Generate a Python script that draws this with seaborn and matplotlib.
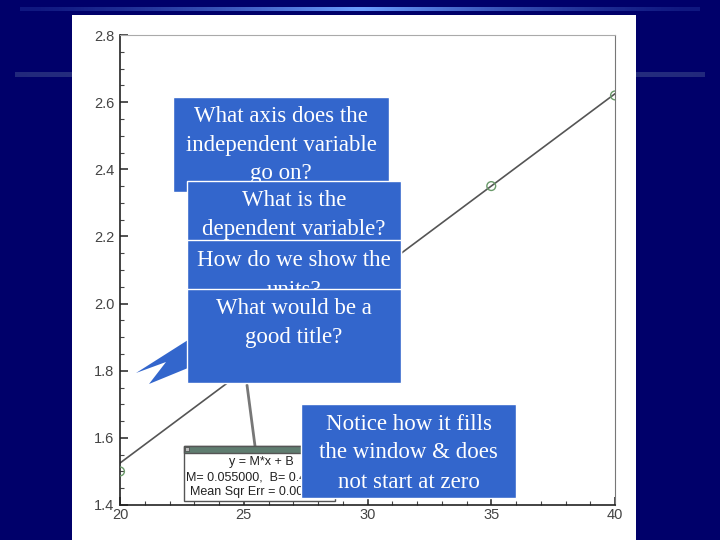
import numpy as np
import pandas as pd
import matplotlib
matplotlib.use("Agg")
import matplotlib.pyplot as plt
import seaborn as sns
from matplotlib.patches import Rectangle, Polygon

# data
x_points = [20, 35, 40]
y_points = [1.50, 2.35, 2.62]
fit_m = 0.055
fit_b = 0.425
x_ticks = [20, 25, 30, 35, 40]
y_ticks = [1.4, 1.6, 1.8, 2.0, 2.2, 2.4, 2.6, 2.8]

df = pd.DataFrame({"x": x_points, "y": y_points})
fit_x = [20, 40]
fit_df = pd.DataFrame({"x": fit_x, "y": [fit_m * v + fit_b for v in fit_x]})

sns.set_style("white")
plt.rcParams["font.family"] = ["Liberation Sans", "DejaVu Sans"]

NAVY = "#00006a"
BLUE = "#3366cc"

fig = plt.figure(figsize=(7.2, 5.4), dpi=100, facecolor=NAVY)

# background layer in pixel coordinates
bg = fig.add_axes([0, 0, 1, 1], zorder=0)
bg.set_xlim(0, 720)
bg.set_ylim(540, 0)
bg.axis("off")
bg.set_facecolor(NAVY)
grad = np.concatenate([np.linspace(0, 1, 50), np.linspace(1, 0, 50)])
top_line = np.zeros((1, 100, 4))
top_line[..., 0] = 0.42
top_line[..., 1] = 0.62
top_line[..., 2] = 1.0
top_line[..., 3] = 0.15 + 0.85 * grad ** 1.5
bg.imshow(top_line, extent=(20, 700, 11, 7), aspect="auto", interpolation="bicubic")
mid_line = np.zeros((1, 100, 4))
mid_line[..., 0] = 0.30
mid_line[..., 1] = 0.36
mid_line[..., 2] = 0.58
mid_line[..., 3] = 0.45 + 0.2 * grad
bg.imshow(mid_line, extent=(15, 705, 77, 72), aspect="auto", interpolation="bicubic")
bg.add_patch(Rectangle((72, 15), 564, 530, facecolor="white", edgecolor="none", zorder=3))

# chart
ax = fig.add_axes([120 / 720, 35 / 540, 495 / 720, 470 / 540], zorder=1)
ax.set_facecolor("white")
sns.lineplot(data=fit_df, x="x", y="y", ax=ax, color="#555555", linewidth=1.2)
sns.scatterplot(data=df, x="x", y="y", ax=ax, s=40, facecolor="none",
                edgecolor="#6a9a6a", linewidth=1.0, zorder=4)
ax.set_xlim(20, 40)
ax.set_ylim(1.4, 2.8)
ax.set_xticks(x_ticks)
ax.set_yticks(y_ticks)
ax.set_xticks(np.arange(20, 41, 1), minor=True)
ax.set_yticks(np.arange(1.4, 2.81, 0.05), minor=True)
ax.set_xticklabels([str(t) for t in x_ticks])
ax.set_yticklabels([f"{t:.1f}" for t in y_ticks])
ax.tick_params(axis="both", which="both", bottom=True, left=True, top=False, right=False)
ax.tick_params(axis="both", which="major", direction="in", length=6, width=1.2,
               labelsize=10.5, labelcolor="#444444", colors="#333333")
ax.tick_params(axis="both", which="minor", direction="in", length=3, width=0.8, colors="#444444")
ax.tick_params(axis="x", pad=2)
ax.tick_params(axis="y", pad=4)
ax.set_xlabel("")
ax.set_ylabel("")
for side in ["left", "bottom"]:
    ax.spines[side].set_color("#222222")
    ax.spines[side].set_linewidth(1.2)
ax.spines["top"].set_color("#aaaaaa")
ax.spines["right"].set_color("#777777")

# overlay for callouts
ov = fig.add_axes([0, 0, 1, 1], zorder=2)
ov.set_xlim(0, 720)
ov.set_ylim(540, 0)
ov.axis("off")
ov.patch.set_alpha(0)

# fit-result window
ov.plot([247, 255], [385, 446], color="#777777", linewidth=2, zorder=1)
ov.add_patch(Rectangle((184, 446), 151, 55, facecolor="white", edgecolor="#555555", linewidth=1, zorder=2))
ov.add_patch(Rectangle((184, 446), 151, 7, facecolor="#5f7d70", edgecolor="#555555", linewidth=1, zorder=2))
ov.add_patch(Rectangle((185, 447), 4, 4, facecolor="#bbbbbb", edgecolor="#444444", linewidth=0.5, zorder=2))
win_lines = ["y = M*x + B", "M= 0.055000,  B= 0.425000", "Mean Sqr Err = 0.000000"]
ov.text(261, 462, win_lines[0], ha="center", va="center", fontsize=9, color="#222222", zorder=2)
ov.text(186, 477, win_lines[1], ha="left", va="center", fontsize=9, color="#222222", zorder=2)
ov.text(190, 492, win_lines[2], ha="left", va="center", fontsize=9, color="#222222", zorder=2)


def box(x0, y0, w, h, lines, z, top):
    ov.add_patch(Rectangle((x0, y0), w, h, facecolor=BLUE, edgecolor="white",
                           linewidth=1, zorder=z))
    for i, line in enumerate(lines):
        ov.text(x0 + w / 2, top + i * 29, line, ha="center", va="center",
                fontsize=16.5, color="white", family=["Liberation Serif"], zorder=z)


box(173, 97, 216, 95, ["What axis does the", "independent variable", "go on?"], 3, 116)
box(187, 181, 214, 95, ["What is the", "dependent variable?"], 4, 200)
box(187, 240, 214, 95, ["How do we show the", "units?"], 5, 261)
ov.add_patch(Polygon([(188, 340), (136, 373), (166, 362), (149, 384), (188, 368)],
                     closed=True, facecolor=BLUE, edgecolor="none", zorder=6))
box(187, 289, 214, 94, ["What would be a", "good title?"], 6, 308)
box(301, 404, 215, 94, ["Notice how it fills", "the window & does", "not start at zero"], 7, 424)

fig.savefig("out.png", dpi=100, facecolor=NAVY)
